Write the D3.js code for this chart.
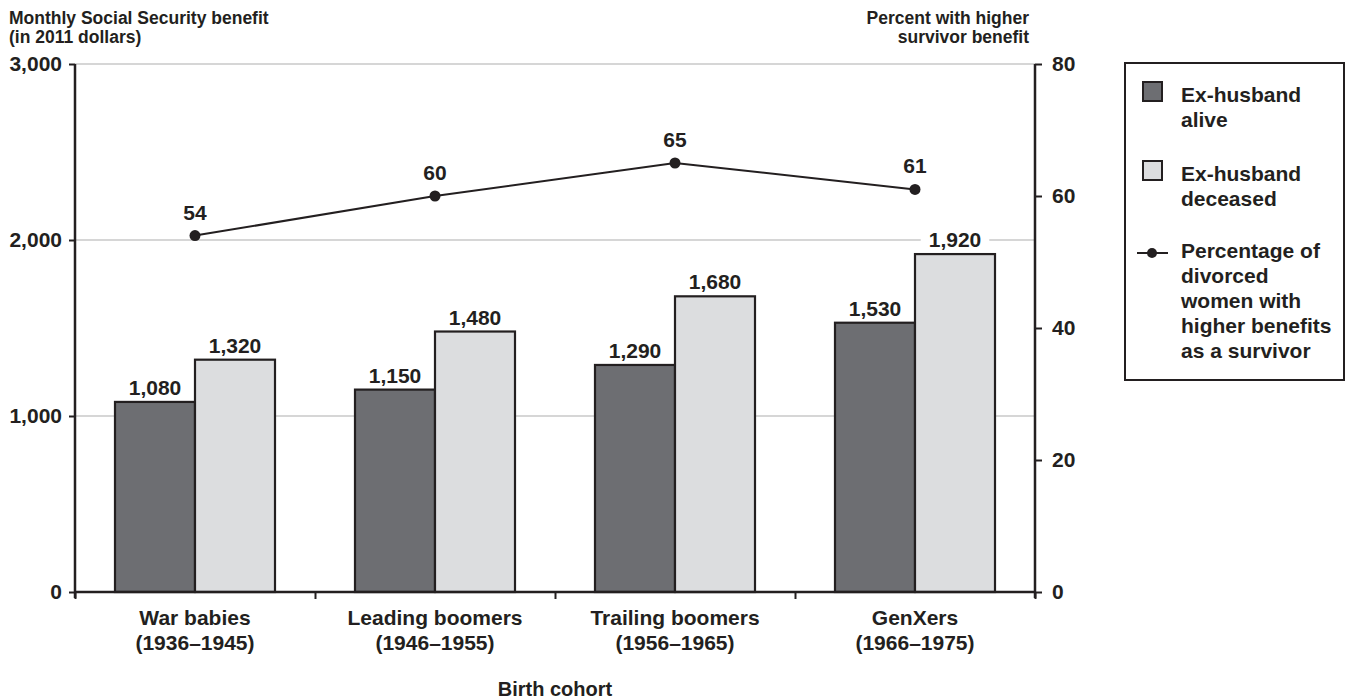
<!DOCTYPE html>
<html>
<head>
<meta charset="utf-8">
<script src="https://cdn.jsdelivr.net/npm/d3@7"></script>
<style>
  html, body { margin: 0; padding: 0; background: #fff; }
  svg { display: block; }
  text { font-family: "Liberation Sans", Arial, Helvetica, sans-serif; font-weight: bold; fill: #231f20; }
</style>
</head>
<body>
<svg id="chart" width="1346" height="700"></svg>
<script>
// Birth cohorts (two-line labels)
const cohorts = ["War babies", "Leading boomers", "Trailing boomers", "GenXers"];
const cohortYears = ["(1936\u20131945)", "(1946\u20131955)", "(1956\u20131965)", "(1966\u20131975)"];

// Monthly benefit in 2011 dollars
const seriesNames = ["Ex-husband alive", "Ex-husband deceased"];
const exHusbandAlive = [1080, 1150, 1290, 1530];
const exHusbandDeceased = [1320, 1480, 1680, 1920];

// Percent of divorced women with higher benefits as a survivor
const pctHigherSurvivor = [54, 60, 65, 61];

// Axis ticks
const leftTicks = [0, 1000, 2000, 3000];
const rightTicks = [0, 20, 40, 60, 80];
const gridTicks = [1000, 2000, 3000];

(function () {
const INK = "#231f20";
const DARK = "#6d6e72";
const LIGHT = "#dcdddf";
const GRID = "#c9c9c9";

const svg = d3.select("#chart");
const plotL = 75, plotR = 1035, plotT = 64, plotB = 592;

const x = d3.scaleBand().domain(cohorts).range([plotL, plotR]).padding(0);
const xInner = d3.scaleBand().domain(seriesNames).range([0, x.bandwidth()]).paddingInner(0).paddingOuter(0.5);
const yL = d3.scaleLinear().domain([0, 3000]).range([plotB, plotT]);
const yR = d3.scaleLinear().domain([0, 80]).range([plotB, plotT]);

const fmt = d3.format(",");

// Gridlines
svg.append("g").selectAll("line").data(gridTicks).join("line")
  .attr("x1", plotL).attr("x2", plotR)
  .attr("y1", d => yL(d)).attr("y2", d => yL(d))
  .attr("stroke", GRID).attr("stroke-width", 1.5);

// Bars
const rows = cohorts.map((c, i) => ({ cohort: c, values: [exHusbandAlive[i], exHusbandDeceased[i]] }));
const groups = svg.append("g").selectAll("g").data(rows).join("g")
  .attr("transform", d => `translate(${x(d.cohort)},0)`);
groups.selectAll("rect").data(d => d.values.map((v, j) => ({ key: seriesNames[j], v, j }))).join("rect")
  .attr("x", d => xInner(d.key))
  .attr("width", xInner.bandwidth())
  .attr("y", d => yL(d.v))
  .attr("height", d => yL(0) - yL(d.v))
  .attr("fill", d => d.j === 0 ? DARK : LIGHT)
  .attr("stroke", INK).attr("stroke-width", 2.2);

// Left axis
const axL = svg.append("g").attr("transform", `translate(${plotL},0)`)
  .call(d3.axisLeft(yL).tickValues(leftTicks).tickFormat(fmt).tickSize(6).tickPadding(7));
// Right axis
const axR = svg.append("g").attr("transform", `translate(${plotR},0)`)
  .call(d3.axisRight(yR).tickValues(rightTicks).tickSize(7).tickPadding(10));
// Bottom axis: ticks at cohort boundaries
const boundaries = cohorts.map(c => x(c)).concat([plotR]);
const axB = svg.append("g").attr("transform", `translate(0,${plotB})`)
  .call(d3.axisBottom(d3.scaleLinear().domain([plotL, plotR]).range([plotL, plotR]))
    .tickValues(boundaries).tickSize(7).tickFormat(""));

[axL, axR, axB].forEach(a => {
  a.select(".domain").attr("stroke", INK).attr("stroke-width", 2.5);
  a.selectAll(".tick line").attr("stroke", INK).attr("stroke-width", 2);
  a.selectAll("text").attr("font-size", 21).attr("fill", INK)
    .style("font-family", '"Liberation Sans", Arial, sans-serif').style("font-weight", "bold");
});
axB.select(".domain").attr("d", `M${plotL},0H${plotR}`);
axL.select(".domain").attr("d", `M0,${plotT}V${plotB + 6}`);
axR.select(".domain").attr("d", `M0,${plotT}V${plotB + 6}`);

// Cohort labels
const xl = svg.append("g");
cohorts.forEach((c, i) => {
  const cx = x(c) + x.bandwidth() / 2;
  xl.append("text").attr("x", cx).attr("y", 625).attr("text-anchor", "middle").attr("font-size", 21).text(c);
  xl.append("text").attr("x", cx).attr("y", 650).attr("text-anchor", "middle").attr("font-size", 21).text(cohortYears[i]);
});
svg.append("text").attr("x", (plotL + plotR) / 2).attr("y", 696).attr("text-anchor", "middle")
  .attr("font-size", 20).text("Birth cohort");

// Axis titles
const tl = svg.append("text").attr("font-size", 17.5);
tl.append("tspan").attr("x", 9).attr("y", 24).text("Monthly Social Security benefit");
tl.append("tspan").attr("x", 9).attr("y", 43).text("(in 2011 dollars)");
const tr = svg.append("text").attr("text-anchor", "end").attr("font-size", 17.5);
tr.append("tspan").attr("x", 1029).attr("y", 24).text("Percent with higher");
tr.append("tspan").attr("x", 1029).attr("y", 43).text("survivor benefit");

// Bar value labels with white backing
function haloLabel(g, cx, baseline, str) {
  const t = g.append("text").attr("x", cx).attr("y", baseline).attr("text-anchor", "middle")
    .attr("font-size", 21).text(str);
  const b = t.node().getBBox();
  g.insert("rect", () => t.node())
    .attr("x", b.x - 8).attr("y", b.y + 2).attr("width", b.width + 16).attr("height", b.height - 2)
    .attr("fill", "#fff");
}
const labels = svg.append("g");
rows.forEach(r => {
  r.values.forEach((v, j) => {
    const cx = x(r.cohort) + xInner(seriesNames[j]) + xInner.bandwidth() / 2;
    haloLabel(labels, cx, yL(v) - 7, fmt(v));
  });
});

// Percentage line
const cxs = cohorts.map(c => x(c) + x.bandwidth() / 2);
const line = d3.line().x((d, i) => cxs[i]).y(d => yR(d));
svg.append("path").datum(pctHigherSurvivor).attr("d", line)
  .attr("fill", "none").attr("stroke", INK).attr("stroke-width", 2);
svg.append("g").selectAll("circle").data(pctHigherSurvivor).join("circle")
  .attr("cx", (d, i) => cxs[i]).attr("cy", d => yR(d)).attr("r", 5.5).attr("fill", INK);
svg.append("g").selectAll("text").data(pctHigherSurvivor).join("text")
  .attr("x", (d, i) => cxs[i]).attr("y", d => yR(d) - 16)
  .attr("text-anchor", "middle").attr("font-size", 21).text(d => d);

// Legend
const lg = svg.append("g");
lg.append("rect").attr("x", 1125).attr("y", 63).attr("width", 219).attr("height", 317)
  .attr("fill", "#fff").attr("stroke", INK).attr("stroke-width", 2);
const legendItems = [
  { kind: "box", fill: DARK, lines: ["Ex-husband", "alive"], y: 102 },
  { kind: "box", fill: LIGHT, lines: ["Ex-husband", "deceased"], y: 181 },
  { kind: "line", lines: ["Percentage of", "divorced", "women with", "higher benefits", "as a survivor"], y: 258 }
];
legendItems.forEach(it => {
  if (it.kind === "box") {
    lg.append("rect").attr("x", 1143).attr("y", it.y - 20).attr("width", 19).attr("height", 19)
      .attr("fill", it.fill).attr("stroke", INK).attr("stroke-width", 2);
  } else {
    lg.append("line").attr("x1", 1137).attr("x2", 1168).attr("y1", it.y - 5).attr("y2", it.y - 5)
      .attr("stroke", INK).attr("stroke-width", 2);
    lg.append("circle").attr("cx", 1152).attr("cy", it.y - 5).attr("r", 5).attr("fill", INK);
  }
  const t = lg.append("text").attr("font-size", 21);
  it.lines.forEach((s, k) => t.append("tspan").attr("x", 1181).attr("y", it.y + k * 25).text(s));
});
})();
</script>
</body>
</html>
